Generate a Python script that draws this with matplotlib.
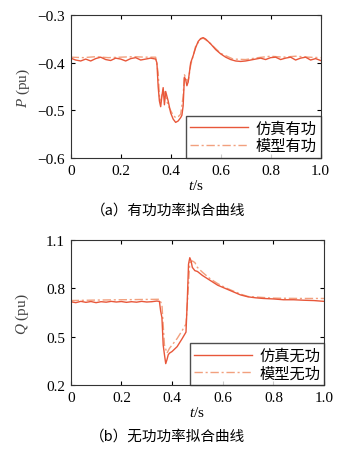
import matplotlib
matplotlib.use("Agg")
import matplotlib.pyplot as plt

plt.rcParams['font.family'] = ['Liberation Serif', 'Noto Sans CJK SC']
plt.rcParams['mathtext.fontset'] = 'custom'
plt.rcParams['mathtext.it'] = 'Liberation Serif:italic'
plt.rcParams['mathtext.rm'] = 'Liberation Serif'

# 有功功率 - 仿真
t_p_sim = [0, 0.02, 0.04, 0.06, 0.08, 0.10, 0.12, 0.14, 0.16, 0.18, 0.20, 0.22, 0.24,
           0.26, 0.28, 0.30, 0.32, 0.34, 0.345, 0.35, 0.355, 0.36, 0.365, 0.37, 0.375,
           0.38, 0.39, 0.40, 0.41, 0.42, 0.43, 0.44, 0.445, 0.45, 0.455, 0.46, 0.465,
           0.47, 0.475, 0.48, 0.49, 0.50, 0.51, 0.52, 0.53, 0.54, 0.56, 0.58, 0.60,
           0.62, 0.64, 0.66, 0.68, 0.70, 0.72, 0.74, 0.76, 0.78, 0.80, 0.82, 0.84,
           0.86, 0.88, 0.90, 0.92, 0.94, 0.96, 0.98, 1.0]
p_sim = [-0.390, -0.394, -0.396, -0.392, -0.396, -0.391, -0.388, -0.393, -0.395, -0.390,
         -0.392, -0.396, -0.391, -0.389, -0.394, -0.392, -0.390, -0.392, -0.400, -0.450,
         -0.480, -0.492, -0.470, -0.452, -0.488, -0.460, -0.480, -0.505, -0.518, -0.525,
         -0.522, -0.515, -0.510, -0.490, -0.430, -0.435, -0.448, -0.440, -0.420, -0.400,
         -0.385, -0.368, -0.355, -0.349, -0.347, -0.350, -0.360, -0.372, -0.381, -0.388,
         -0.393, -0.396, -0.397, -0.396, -0.394, -0.392, -0.390, -0.393, -0.389, -0.388,
         -0.393, -0.390, -0.388, -0.394, -0.390, -0.388, -0.394, -0.391, -0.395]

# 有功功率 - 模型
t_p_mod = [0, 0.05, 0.10, 0.15, 0.20, 0.25, 0.30, 0.34, 0.35, 0.355, 0.36, 0.37, 0.38,
           0.39, 0.40, 0.41, 0.42, 0.43, 0.44, 0.45, 0.455, 0.46, 0.47, 0.48, 0.49,
           0.50, 0.52, 0.53, 0.55, 0.60, 0.65, 0.70, 0.75, 0.80, 0.85, 0.90, 0.95, 1.0]
p_mod = [-0.388, -0.389, -0.387, -0.389, -0.388, -0.387, -0.388, -0.388, -0.420, -0.470,
         -0.480, -0.455, -0.470, -0.490, -0.500, -0.510, -0.515, -0.513, -0.508, -0.470,
         -0.425, -0.430, -0.440, -0.405, -0.385, -0.365, -0.350, -0.348, -0.355, -0.380,
         -0.392, -0.393, -0.389, -0.386, -0.388, -0.386, -0.388, -0.389]

# 无功功率 - 仿真
t_q_sim = [0, 0.02, 0.04, 0.06, 0.08, 0.10, 0.12, 0.14, 0.16, 0.18, 0.20, 0.22, 0.24,
           0.26, 0.28, 0.30, 0.32, 0.34, 0.35, 0.355, 0.36, 0.365, 0.37, 0.375, 0.38,
           0.385, 0.39, 0.40, 0.42, 0.44, 0.455, 0.46, 0.465, 0.47, 0.475, 0.48, 0.49,
           0.50, 0.52, 0.55, 0.58, 0.61, 0.64, 0.67, 0.70, 0.73, 0.76, 0.80, 0.84,
           0.88, 0.92, 0.96, 1.0]
q_sim = [0.718, 0.712, 0.720, 0.714, 0.719, 0.712, 0.718, 0.715, 0.720, 0.716, 0.719,
         0.714, 0.718, 0.715, 0.720, 0.716, 0.718, 0.722, 0.720, 0.660, 0.620, 0.450,
         0.390, 0.335, 0.360, 0.390, 0.400, 0.410, 0.440, 0.490, 0.530, 0.720, 0.950,
         0.990, 0.970, 0.930, 0.910, 0.905, 0.880, 0.850, 0.820, 0.800, 0.780, 0.760,
         0.748, 0.742, 0.738, 0.735, 0.730, 0.730, 0.727, 0.725, 0.720]

# 无功功率 - 模型
t_q_mod = [0, 0.10, 0.20, 0.30, 0.35, 0.36, 0.37, 0.38, 0.39, 0.40, 0.42, 0.44, 0.455,
           0.46, 0.47, 0.48, 0.49, 0.50, 0.52, 0.55, 0.58, 0.61, 0.64, 0.67, 0.70,
           0.75, 0.80, 0.90, 1.0]
q_mod = [0.725, 0.728, 0.730, 0.732, 0.733, 0.700, 0.450, 0.400, 0.430, 0.450, 0.490,
         0.540, 0.580, 0.700, 0.960, 0.970, 0.960, 0.930, 0.900, 0.860, 0.830, 0.805,
         0.785, 0.765, 0.750, 0.745, 0.740, 0.738, 0.738]

c_sim = '#E8573A'
c_mod = '#F2A07E'

fig = plt.figure(figsize=(3.5, 4.52), dpi=100)
ax1 = fig.add_axes([0.202, 0.648, 0.714, 0.316])
ax2 = fig.add_axes([0.202, 0.145, 0.724, 0.322])

ax1.plot(t_p_mod, p_mod, color=c_mod, lw=1.0, ls=(0, (6, 2, 1.5, 2)), label='模型有功')
ax1.plot(t_p_sim, p_sim, color=c_sim, lw=1.0, label='仿真有功')
ax2.plot(t_q_mod, q_mod, color=c_mod, lw=1.0, ls=(0, (6, 2, 1.5, 2)), label='模型无功')
ax2.plot(t_q_sim, q_sim, color=c_sim, lw=1.0, label='仿真无功')

ax1.set_ylim(-0.6, -0.3)
ax1.set_yticks([-0.6, -0.5, -0.4, -0.3])
ax1.set_yticklabels(['\u22120.6', '\u22120.5', '\u22120.4', '\u22120.3'])
ax1.set_ylabel('$P$ (pu)', fontsize=11, color='#444444', labelpad=4)
ax2.set_ylim(0.2, 1.1)
ax2.set_yticks([0.2, 0.5, 0.8, 1.1])
ax2.set_ylabel('$Q$ (pu)', fontsize=11, color='#444444', labelpad=11)

for ax in (ax1, ax2):
    ax.set_xlim(0, 1.0)
    ax.set_xticks([0, 0.2, 0.4, 0.6, 0.8, 1.0])
    ax.set_xticklabels(['0', '0.2', '0.4', '0.6', '0.8', '1.0'])
    ax.tick_params(direction='in', length=3, labelsize=11, top=True, right=True, pad=4)
    ax.set_xlabel('$t$/s', fontsize=11, labelpad=1)
    for s in ax.spines.values():
        s.set_linewidth(0.8)
        s.set_color('#333333')
    h, l = ax.get_legend_handles_labels()
    leg = ax.legend(h[::-1], l[::-1], loc='lower right', borderaxespad=0,
                    handlelength=3.8, handletextpad=0.5, frameon=True, fancybox=False,
                    prop={'family': ['Noto Sans CJK SC'], 'size': 11},
                    borderpad=0.25, labelspacing=0.05)
    leg.get_frame().set_edgecolor('#222222')
    leg.get_frame().set_linewidth(1.0)

fig.text(0.48, 0.535, '（a）有功功率拟合曲线', ha='center', va='center', fontsize=10.5,
         family=['Noto Sans CJK SC'])
fig.text(0.48, 0.033, '（b）无功功率拟合曲线', ha='center', va='center', fontsize=10.5,
         family=['Noto Sans CJK SC'])

fig.savefig('out.png', dpi=100)
